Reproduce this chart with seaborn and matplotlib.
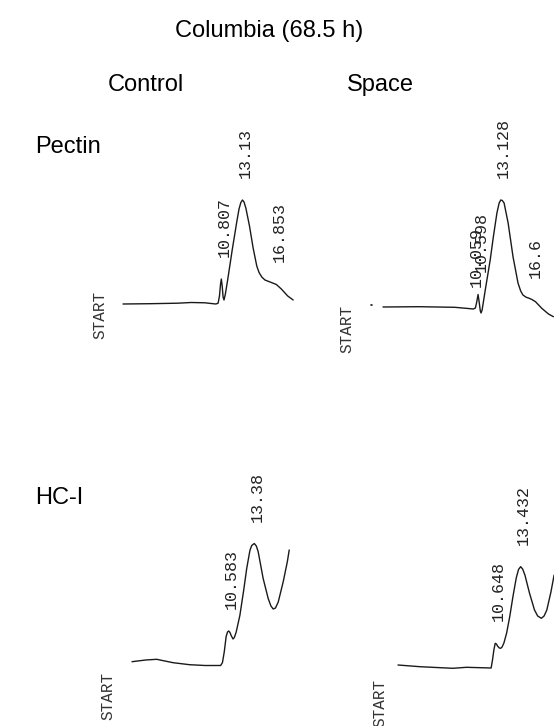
import numpy as np
import pandas as pd
import matplotlib
matplotlib.use("Agg")
import matplotlib.pyplot as plt
import seaborn as sns

# ---- chromatogram traces: retention time (min) vs detector response ----
pectin_control_time = [0, 3.0, 6.0, 7.5, 9.0, 10.2, 10.45, 10.6, 10.72, 10.807, 10.9,
                       11.0, 11.1, 11.25, 11.5, 12.0, 12.5, 12.75, 12.95, 13.13, 13.3,
                       13.5, 13.9, 14.3, 14.7, 14.95, 15.25, 15.6, 16.3, 16.853, 17.4,
                       18.1, 18.7]
pectin_control_resp = [0, 0.3, 0.8, 1.5, 1.2, 0, 0.8, 8, 20, 25, 18,
                       7, 4, 10, 24, 54, 82, 95, 101.5, 104, 102,
                       96, 78, 56, 38, 31.5, 27, 24, 21.5, 19.5, 15,
                       8, 4]

pectin_space_time = [0, 4.0, 8.0, 9.5, 10.059, 10.3, 10.45, 10.598, 10.72, 10.85,
                     10.93, 11.05, 11.4, 11.95, 12.3, 12.7, 12.95, 13.128, 13.3, 13.5,
                     13.95, 14.5, 15.05, 15.35, 15.6, 15.95, 16.3, 16.6, 17.0, 17.7,
                     18.45, 19.0]
pectin_space_resp = [0, 0.3, -0.3, -1.5, -2, -1, 5, 12.5, 5, -4,
                     -6, -3, 17, 47, 70, 94, 104, 107, 106.5, 104,
                     84, 50, 24, 16, 12, 9.8, 8.7, 7.5, 5.3, -1.3,
                     -7, -9.7]

hc_control_time = [0, 1.5, 2.7, 4.5, 6.3, 8.0, 9.7, 9.9, 10.1, 10.3, 10.45, 10.583,
                   10.72, 10.85, 11.05, 11.2, 11.4, 11.8, 12.2, 12.55, 12.9, 13.1,
                   13.38, 13.6, 13.8, 14.35, 14.9, 15.2, 15.45, 15.7, 16.0, 16.55,
                   17.0, 17.2]
hc_control_resp = [3.8, 5.5, 6.2, 2.8, 0.8, 0, 0, 3, 14, 29, 33.5, 34.5,
                   33, 30, 26.5, 28, 33.5, 50, 74, 97, 115, 120,
                   122, 119.5, 114, 87, 67, 59.5, 56.5, 57.5, 63.5, 84,
                   104, 115.5]

hc_space_time = [0, 2.4, 6.0, 7.5, 10.2, 10.35, 10.5, 10.648, 10.78, 10.9, 11.1,
                 11.25, 11.4, 11.6, 11.9, 12.25, 12.6, 12.95, 13.2, 13.432, 13.65,
                 13.9, 14.4, 14.95, 15.3, 15.7, 16.0, 16.3, 16.75, 17.1]
hc_space_resp = [3, 1.3, -0.3, 0.7, 0, 8, 18, 24.7, 24, 22, 20,
                 19.7, 21, 25, 35, 52, 72, 90, 98.5, 101.3, 99,
                 93, 75, 58, 52, 49.7, 52, 58, 76, 93]

# retention times printed by the integrator
pectin_control_peaks = [10.807, 13.13, 16.853]
pectin_space_peaks = [10.059, 10.598, 13.128, 16.6]
hc_control_peaks = [10.583, 13.38]
hc_space_peaks = [10.648, 13.432]

title = "Columbia (68.5 h)"
columns = ["Control", "Space"]
rows = ["Pectin", "HC-I"]

# ---- figure ----
sns.set_theme(style="white")
plt.rcParams["font.family"] = ["Liberation Sans", "DejaVu Sans"]

W, H = 554, 726
fig = plt.figure(figsize=(W / 100, H / 100), dpi=100)
fig.patch.set_facecolor("white")

MONO = ["Liberation Mono", "DejaVu Sans Mono"]
INK = "#1a1a1a"


def panel_axes(t0_px, base_px, px_per_min, xlim=(-5.0, 20.0), ylim=(-40.0, 200.0)):
    """Axes whose data units are minutes (x) and response counts (y, 1 count = 1 px)."""
    x0 = t0_px + xlim[0] * px_per_min
    x1 = t0_px + xlim[1] * px_per_min
    y_top = base_px - ylim[1]
    y_bot = base_px - ylim[0]
    ax = fig.add_axes([x0 / W, 1 - y_bot / H, (x1 - x0) / W, (y_bot - y_top) / H])
    ax.set_xlim(*xlim)
    ax.set_ylim(*ylim)
    ax.axis("off")
    ax.patch.set_alpha(0)
    return ax


panels = [
    # (time, response, peaks, axes origin px, baseline px, px/min, START offset px)
    (pectin_control_time, pectin_control_resp, pectin_control_peaks, 123, 304, 9.10, (-23, -11)),
    (pectin_space_time, pectin_space_resp, pectin_space_peaks, 383, 307, 8.97, (-36, -22)),
    (hc_control_time, hc_control_resp, hc_control_peaks, 132, 665.5, 9.14, (-24, -30)),
    (hc_space_time, hc_space_resp, hc_space_peaks, 398, 668, 9.13, (-18, -35)),
]

for i, (t, r, peaks, t0, base, scale, start_off) in enumerate(panels):
    ax = panel_axes(t0, base, scale)
    df = pd.DataFrame({"time": t, "response": r})
    sns.lineplot(data=df, x="time", y="response", ax=ax, color=INK,
                 linewidth=1.0, estimator=None, sort=False,
                 solid_joinstyle="round", solid_capstyle="round")
    ax.axis("off")

    # integrator start marker
    ax.annotate("START", xy=(0, 0), xytext=start_off, textcoords="offset pixels",
                rotation=90, ha="center", va="center", family=MONO,
                fontsize=11.5, color="#333333", annotation_clip=False)

    # retention-time labels above each peak
    for p in peaks:
        h = float(np.interp(p, t, r))
        ax.annotate(str(p), xy=(p, h), xytext=(3, 22), textcoords="offset pixels",
                    rotation=90, ha="center", va="bottom", family=MONO,
                    fontsize=12, color="#222222", annotation_clip=False)

# small pen mark before the space pectin trace
ax_mark = fig.axes[1]
ax_mark.plot([-1.35, -1.25], [2, 2], color=INK, lw=1.2)

# ---- headings ----
fig.text(269 / W, 1 - 37 / H, title, ha="center", va="baseline", fontsize=17, color="black")
fig.text(146 / W, 1 - 91 / H, columns[0], ha="center", va="baseline", fontsize=17, color="black")
fig.text(380 / W, 1 - 91 / H, columns[1], ha="center", va="baseline", fontsize=17, color="black")
fig.text(35 / W, 1 - 153 / H, rows[0], ha="left", va="baseline", fontsize=17, color="black")
fig.text(35 / W, 1 - 504 / H, rows[1], ha="left", va="baseline", fontsize=17, color="black")

fig.savefig("out.png", dpi=100, facecolor="white")
